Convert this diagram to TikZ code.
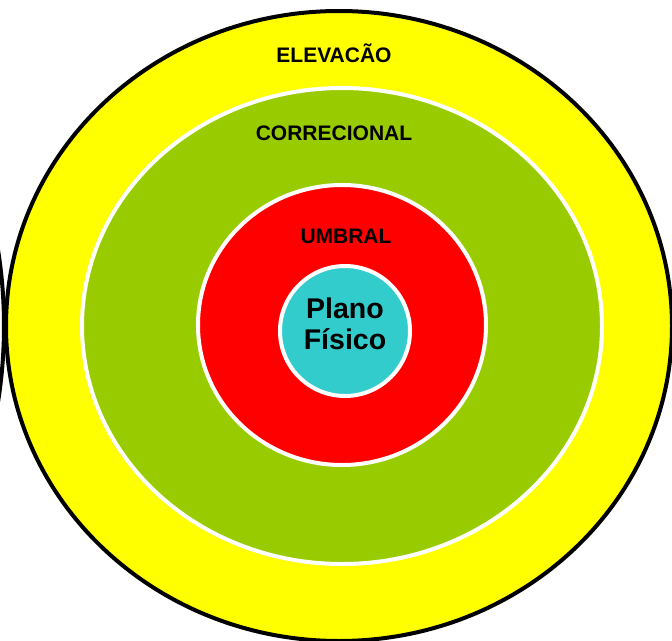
\documentclass[tikz,border=0pt]{standalone}
\usepackage{fontspec}
\setmainfont{Liberation Sans}
\definecolor{ringyellow}{HTML}{FFFF00}
\definecolor{ringgreen}{HTML}{99CC00}
\definecolor{ringred}{HTML}{FF0000}
\definecolor{ringcyan}{HTML}{33CCCC}
\begin{document}
\begin{tikzpicture}[x=1pt,y=-1pt,
  outer/.style={draw=black,line width=4pt},
  inner/.style={draw=white,line width=4pt},
  lbl/.style={font=\fontsize{21}{24}\selectfont\bfseries,text=black,inner sep=0pt},
  core/.style={font=\fontsize{28.5}{32}\selectfont\bfseries,text=black,inner sep=0pt,align=center}]
\useasboundingbox (0,0) rectangle (672,640);
\clip (0,0) rectangle (672,640);
\draw[outer] (-329,326) ellipse [x radius=333, y radius=400];
\draw[outer,fill=ringyellow] (339,326) ellipse [x radius=333, y radius=315];
\draw[inner,fill=ringgreen] (342,326) ellipse [x radius=260, y radius=238];
\draw[inner,fill=ringred] (342,325) ellipse [x radius=144, y radius=140];
\draw[inner,fill=ringcyan] (345,331) ellipse [x radius=65, y radius=65];
\node[lbl] (elev) at (334,53) {ELEVACÃO};
\node[lbl] (corr) at (334,133) {CORRECIONAL};
\node[lbl] (umb) at (346,236) {UMBRAL};
\node[core] (plano) at (345,324) {Plano\\[-1pt]Físico};
\end{tikzpicture}
\end{document}
